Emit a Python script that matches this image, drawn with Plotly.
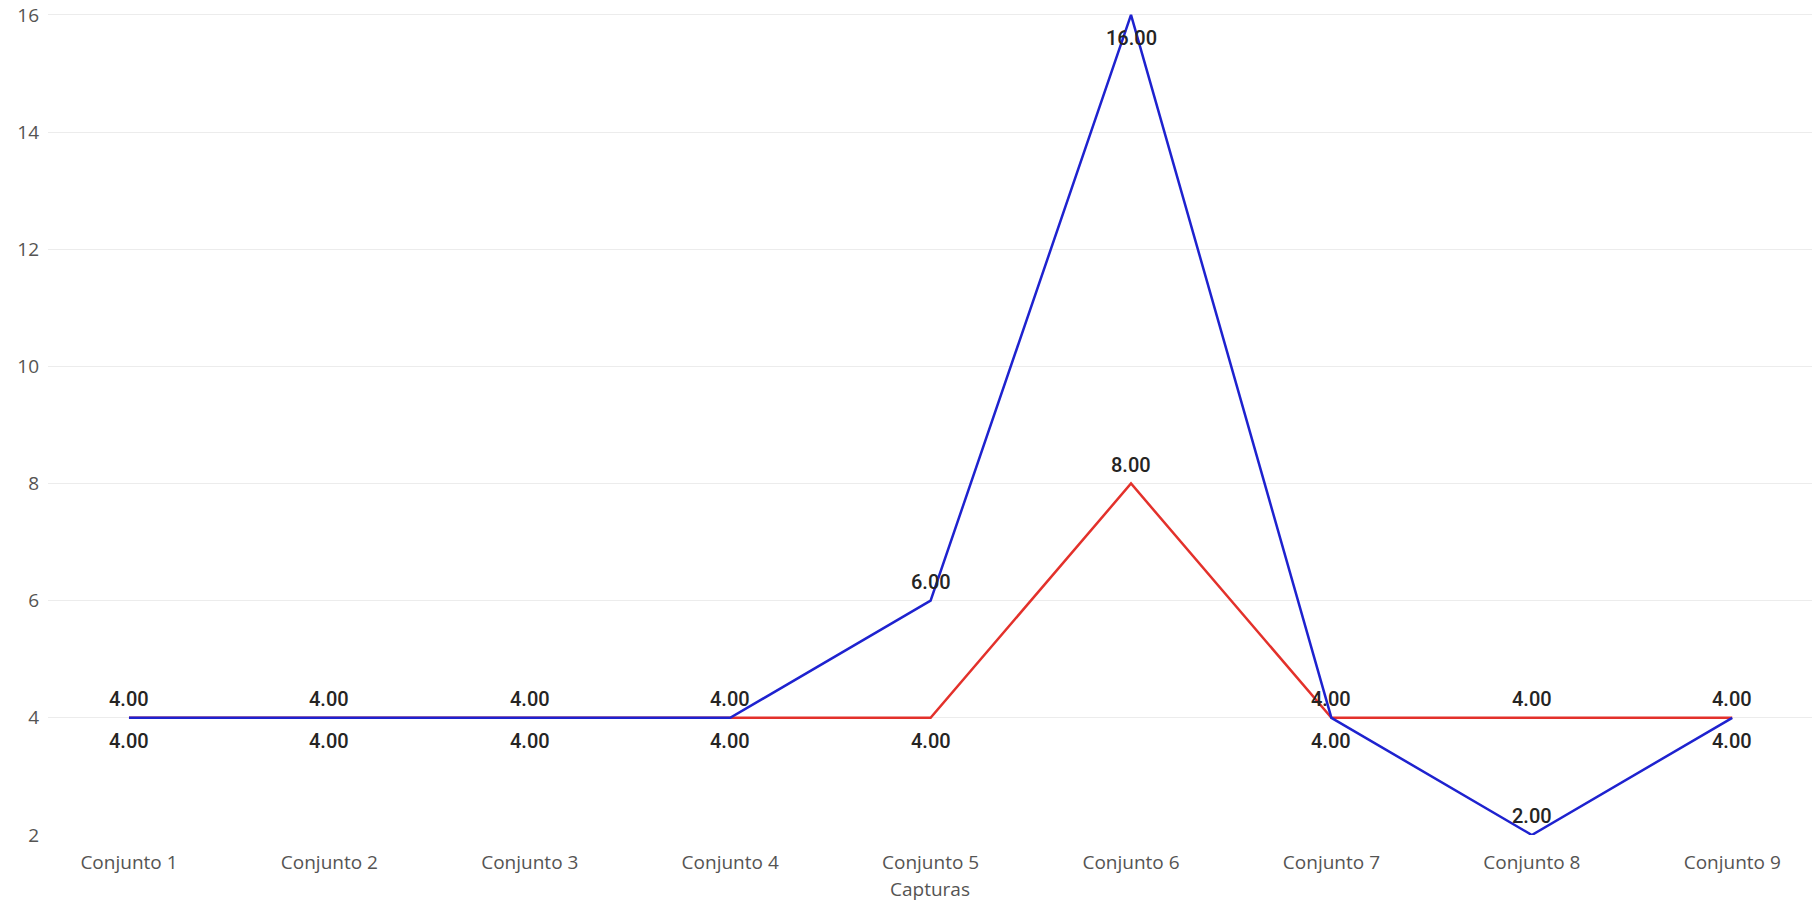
import plotly.graph_objects as go

# Categories and series values
categorias = ["Conjunto 1", "Conjunto 2", "Conjunto 3", "Conjunto 4", "Conjunto 5",
              "Conjunto 6", "Conjunto 7", "Conjunto 8", "Conjunto 9"]
serie_azul = [4, 4, 4, 4, 6, 16, 4, 2, 4]
serie_roja = [4, 4, 4, 4, 4, 8, 4, 4, 4]

# Label placement per point: +1 above the point, -1 below it
pos_azul = [1, 1, 1, 1, 1, -1, 1, 1, 1]
pos_roja = [-1, -1, -1, -1, -1, 1, -1, 1, -1]

y_ticks = [2, 4, 6, 8, 10, 12, 14, 16]

AZUL = "#1E22CF"
ROJO = "#E3312B"
LABEL_FONT = dict(family="Roboto, sans-serif", size=20, color="#252423", weight=500)
TICK_FONT = dict(family="Open Sans, Noto Sans, sans-serif", size=19, color="#555453")

xs = list(range(len(categorias)))

fig = go.Figure()
fig.add_trace(go.Scatter(x=xs, y=serie_roja, mode="lines",
                         line=dict(color=ROJO, width=2.5), hoverinfo="skip",
                         showlegend=False, cliponaxis=False))
fig.add_trace(go.Scatter(x=xs, y=serie_azul, mode="lines",
                         line=dict(color=AZUL, width=2.5), hoverinfo="skip",
                         showlegend=False, cliponaxis=False))

annotations = []
for serie, pos in ((serie_azul, pos_azul), (serie_roja, pos_roja)):
    for i, (v, p) in enumerate(zip(serie, pos)):
        annotations.append(dict(
            x=xs[i], y=v, xref="x", yref="y", text=f"{v:.2f}",
            showarrow=False, font=LABEL_FONT,
            yshift=19 if p > 0 else -23,
        ))

fig.update_layout(
    width=1820, height=903,
    margin=dict(l=48, r=8, t=9, b=68),
    paper_bgcolor="white", plot_bgcolor="white",
    annotations=annotations,
    xaxis=dict(
        range=[-0.404, 8.398], tickmode="array", tickvals=xs, ticktext=categorias,
        showgrid=False, zeroline=False, showline=False, ticks="",
        tickfont=TICK_FONT, ticklabelstandoff=14, automargin=False,
        title=dict(text="Capturas", font=TICK_FONT, standoff=8),
    ),
    yaxis=dict(
        range=[2, 16.1], tickmode="array", tickvals=y_ticks,
        showgrid=True, gridcolor="#ECECEC", gridwidth=1,
        zeroline=False, showline=False, ticks="", tickfont=TICK_FONT,
        ticklabelstandoff=8, automargin=False,
    ),
)

fig.write_html("out.html")
